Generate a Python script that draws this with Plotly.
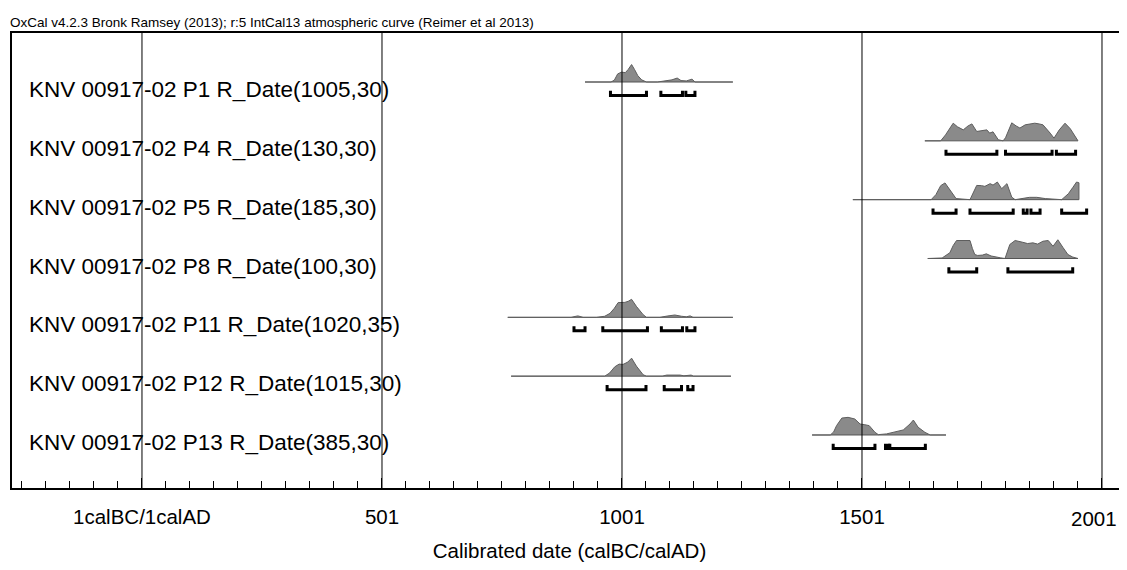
import plotly.graph_objects as go

# ---------------- data ----------------
title_text = "OxCal v4.2.3 Bronk Ramsey (2013); r:5 IntCal13 atmospheric curve (Reimer et al 2013)"
axis_title = "Calibrated date (calBC/calAD)"

tick_vals = [1, 501, 1001, 1501, 2001]
tick_text = ["1calBC/1calAD", "501", "1001", "1501", "2001"]

labels = [
    "KNV 00917-02 P1 R_Date(1005,30)",
    "KNV 00917-02 P4 R_Date(130,30)",
    "KNV 00917-02 P5 R_Date(185,30)",
    "KNV 00917-02 P8 R_Date(100,30)",
    "KNV 00917-02 P11 R_Date(1020,35)",
    "KNV 00917-02 P12 R_Date(1015,30)",
    "KNV 00917-02 P13 R_Date(385,30)",
]

# relative probability curves (calendar year, relative probability)
p1_years = [924, 978, 985, 992, 1000, 1008, 1014, 1021, 1027, 1034, 1042, 1052, 1075, 1090, 1105, 1116, 1124, 1135, 1147, 1153, 1232]
p1_prob = [0, 0, 0.1, 0.45, 0.55, 0.52, 0.7, 0.97, 0.7, 0.35, 0.12, 0, 0, 0.06, 0.12, 0.22, 0.08, 0.06, 0.16, 0, 0]

p4_years = [1632, 1665, 1675, 1691, 1700, 1712, 1722, 1730, 1740, 1750, 1761, 1767, 1774, 1785, 1795, 1800, 1813, 1822, 1830, 1841, 1850, 1861, 1870, 1878, 1893, 1901, 1912, 1924, 1935, 1944, 1951]
p4_prob = [0, 0, 0.33, 0.98, 0.78, 0.61, 0.83, 0.94, 0.52, 0.56, 0.61, 0.43, 0.5, 0.06, 0, 0.17, 1.0, 0.83, 0.71, 0.89, 0.92, 0.98, 0.94, 0.89, 0.43, 0.15, 0.61, 0.98, 0.67, 0.28, 0]

p5_years = [1482, 1645, 1655, 1665, 1674, 1684, 1697, 1726, 1733, 1740, 1750, 1757, 1768, 1774, 1783, 1792, 1803, 1813, 1820, 1834, 1850, 1865, 1883, 1917, 1925, 1931, 1940, 1948, 1953, 1953]
p5_prob = [0, 0, 0.28, 0.78, 0.93, 0.56, 0.06, 0, 0.44, 0.79, 0.78, 0.74, 0.89, 0.81, 0.98, 0.61, 0.89, 0.14, 0, 0.08, 0.13, 0.13, 0.06, 0, 0.22, 0.33, 0.67, 0.98, 0.94, 0]

p8_years = [1638, 1668, 1684, 1691, 1698, 1712, 1726, 1731, 1736, 1742, 1752, 1760, 1770, 1789, 1799, 1809, 1820, 1836, 1846, 1857, 1867, 1878, 1889, 1899, 1909, 1920, 1930, 1940, 1951]
p8_prob = [0, 0.03, 0.32, 0.72, 1.0, 1.0, 1.0, 0.56, 0.22, 0.17, 0.19, 0.26, 0.14, 0.04, 0, 0.78, 1.0, 0.9, 0.83, 0.87, 0.8, 0.96, 1.0, 0.68, 1.04, 0.6, 0.22, 0.08, 0]

p11_years = [763, 895, 909, 920, 948, 965, 976, 985, 993, 1000, 1007, 1014, 1021, 1031, 1045, 1052, 1080, 1095, 1111, 1125, 1135, 1143, 1149, 1232]
p11_prob = [0, 0, 0.08, 0, 0, 0.06, 0.22, 0.5, 0.82, 0.83, 0.83, 0.89, 1.0, 0.61, 0.15, 0, 0, 0.07, 0.13, 0.06, 0.03, 0.08, 0, 0]

p12_years = [770, 965, 975, 986, 995, 1003, 1013, 1021, 1031, 1040, 1045, 1052, 1085, 1094, 1108, 1122, 1130, 1140, 1145, 1150, 1228]
p12_prob = [0, 0, 0.17, 0.52, 0.67, 0.65, 0.78, 1.0, 0.56, 0.22, 0.08, 0, 0, 0.06, 0.08, 0.06, 0.02, 0.06, 0.06, 0, 0]

p13_years = [1397, 1435, 1442, 1448, 1459, 1472, 1486, 1497, 1507, 1516, 1528, 1535, 1552, 1566, 1587, 1601, 1608, 1618, 1632, 1643, 1676]
p13_prob = [0, 0, 0.17, 0.52, 0.94, 0.98, 0.89, 0.61, 0.57, 0.52, 0.15, 0.02, 0.06, 0.15, 0.28, 0.61, 0.83, 0.43, 0.15, 0, 0]

# highest posterior density ranges (start, end)
p1_ranges = [(977, 1052), (1082, 1127), (1134, 1153)]
p4_ranges = [(1676, 1782), (1800, 1897), (1906, 1946)]
p5_ranges = [(1649, 1697), (1726, 1816), (1837, 1845), (1853, 1872), (1917, 1969)]
p8_ranges = [(1682, 1740), (1805, 1940)]
p11_ranges = [(901, 924), (961, 1054), (1083, 1127), (1136, 1153)]
p12_ranges = [(970, 1051), (1089, 1125), (1138, 1149)]
p13_ranges = [(1441, 1528), (1550, 1556), (1559, 1633)]

years_list = [p1_years, p4_years, p5_years, p8_years, p11_years, p12_years, p13_years]
prob_list = [p1_prob, p4_prob, p5_prob, p8_prob, p11_prob, p12_prob, p13_prob]
ranges_list = [p1_ranges, p4_ranges, p5_ranges, p8_ranges, p11_ranges, p12_ranges, p13_ranges]

# ---------------- style ----------------
FONT = "Liberation Sans, Arial, sans-serif"
X_RANGE = [-269.8, 2053.1]
Y_RANGE = [6.901, -0.833]
PEAK = 0.306      # height of a relative probability of 1, in row units
BR_OFF = 0.23     # offset of range brackets below baseline
BR_TICK = 0.08    # bracket end tick height
LABEL_X = -238
LABEL_DY = 0.13
TICK_FONT = dict(family=FONT, size=20.5, color="black")

fig = go.Figure()

for i, (yrs, prob, rngs) in enumerate(zip(years_list, prob_list, ranges_list)):
    fig.add_trace(go.Scatter(
        x=[yrs[0], yrs[-1]], y=[i, i], mode="lines",
        line=dict(color="#555555", width=1), hoverinfo="skip", showlegend=False))
    fig.add_trace(go.Scatter(
        x=yrs, y=[i - p * PEAK for p in prob], mode="lines",
        line=dict(color="#5e5e5e", width=1), fill="tonexty", fillcolor="#8a8a8a",
        showlegend=False))
    bx, by = [], []
    yb = i + BR_OFF
    for a, b in rngs:
        bx += [a, a, b, b, None]
        by += [yb - BR_TICK, yb, yb, yb - BR_TICK, None]
    fig.add_trace(go.Scatter(
        x=bx, y=by, mode="lines", line=dict(color="black", width=3),
        hoverinfo="skip", showlegend=False))
    fig.add_annotation(
        x=LABEL_X, y=i + LABEL_DY, text=labels[i], showarrow=False,
        xanchor="left", yanchor="middle",
        font=dict(family=FONT, size=22.5, color="black"))

for v in tick_vals:
    fig.add_shape(type="line", xref="x", yref="paper", x0=v, x1=v, y0=0, y1=1,
                  line=dict(color="black", width=1), layer="above")

# last tick label sits at the right edge: draw it right-aligned so it stays visible
shown_text = tick_text[:-1] + [""]
fig.add_annotation(
    xref="paper", yref="paper", x=1, xshift=-8, y=(488 - 518) / 455,
    text=tick_text[-1], showarrow=False, xanchor="right", yanchor="middle",
    font=TICK_FONT)

fig.add_annotation(
    xref="paper", yref="paper", x=-4 / 1115, y=(480 - 14) / 455,
    text=title_text, showarrow=False, xanchor="left", yanchor="middle",
    font=dict(family=FONT, size=13.5, color="black"))

fig.update_layout(
    width=1119, height=554,
    margin=dict(l=4, r=0, t=25, b=74),
    paper_bgcolor="white", plot_bgcolor="white",
    font=dict(family=FONT, color="black"),
    xaxis=dict(
        range=X_RANGE, tickmode="array", tickvals=tick_vals, ticktext=shown_text,
        ticks="inside", ticklen=10, tickcolor="black", tickwidth=1,
        showgrid=False, zeroline=False,
        showline=True, linecolor="black", linewidth=2, mirror=True,
        tickfont=TICK_FONT,
        ticklabelstandoff=9, ticklabeloverflow="allow",
        minor=dict(ticks="inside", ticklen=7, tickcolor="black", tickwidth=1,
                   tickmode="linear", tick0=1, dtick=50, showgrid=False),
        title=dict(text=axis_title, font=dict(family=FONT, size=20.5, color="black"),
                   standoff=20),
    ),
    yaxis=dict(
        range=Y_RANGE, showticklabels=False, ticks="", showgrid=False,
        zeroline=False, showline=True, linecolor="black", linewidth=2,
    ),
)

fig.write_html("out.html")
